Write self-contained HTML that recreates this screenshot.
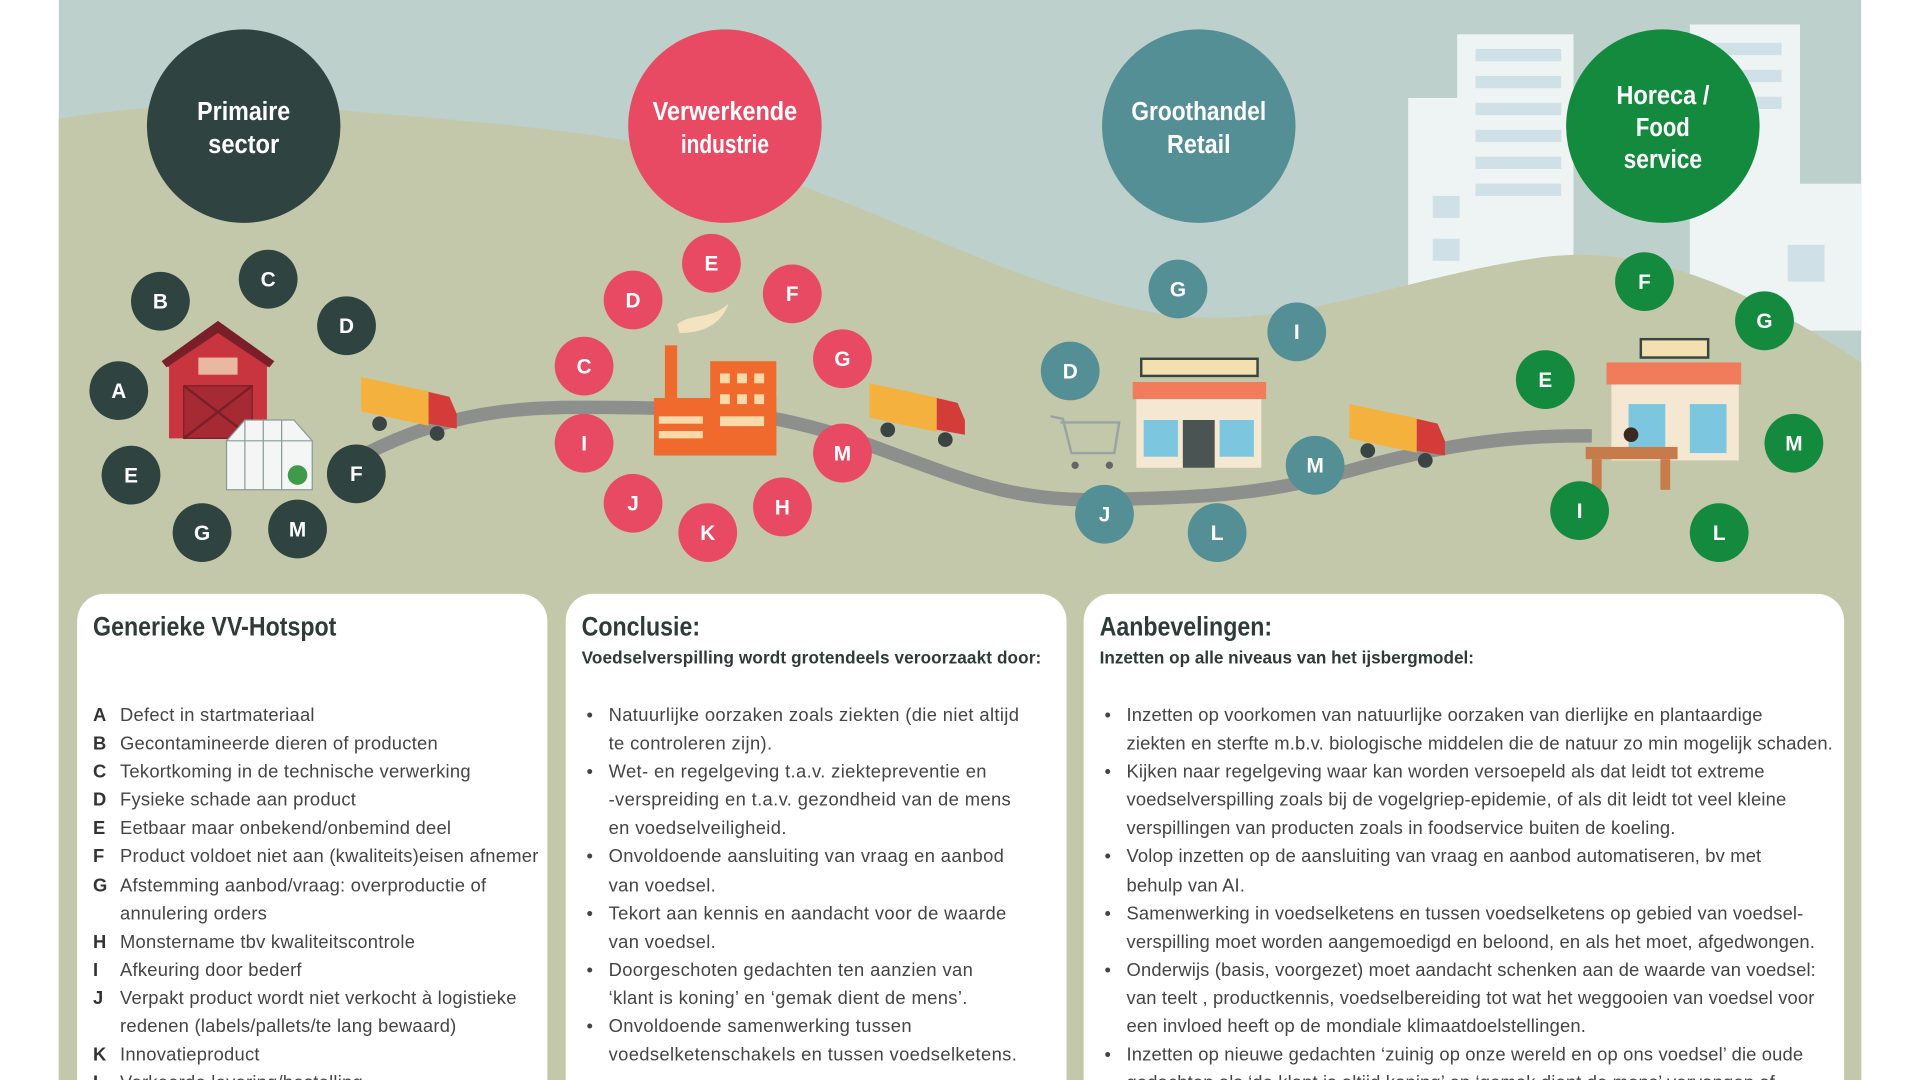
<!DOCTYPE html>
<html><head><meta charset="utf-8"><style>
html,body{margin:0;padding:0;width:1920px;height:1080px;overflow:hidden;background:#fff}
#wrap{position:absolute;left:0;top:0;width:1568px;height:882px;overflow:hidden;transform:scale(1.22449);transform-origin:0 0;font-family:"Liberation Sans",sans-serif}
svg text{font-family:"Liberation Sans",sans-serif;font-weight:bold}
.card{position:absolute;top:485px;height:420px;background:#fff;border-radius:22px 22px 0 0;color:#333}
.h{position:absolute;top:14px;left:13px;font-size:22px;font-weight:bold;color:#2f3b38;transform:scaleX(0.86);transform-origin:0 0;white-space:nowrap}
.s{position:absolute;top:44px;left:13px;font-size:14px;font-weight:bold;color:#2f3b38;white-space:nowrap}
.l{position:absolute;top:88px;left:13px;right:0;font-size:15px;line-height:23.1px;color:#444;white-space:nowrap}
.l div{position:relative;padding-left:22px}
.l b{position:absolute;left:0;font-weight:bold;color:#333}
.l i{position:absolute;left:4px;font-style:normal}
</style></head><body><div id="wrap">
<svg width="1568" height="882" style="position:absolute;left:0;top:0">
<defs>
<g id="tr"><rect x="0" y="0" width="55" height="28" fill="#f4b13e" transform="skewY(12)"/><path d="M55 12 L72 16 L78 30 L78 42 L55 38 Z" fill="#d33c38"/><circle cx="15" cy="38" r="6" fill="#3a4443"/><circle cx="62" cy="46" r="6" fill="#3a4443"/></g>
</defs>
<rect x="48" y="0" width="1472" height="882" fill="#bdd0cc"/>
<g fill="#eef3f4">
<rect x="1190" y="28" width="95" height="240"/>
<rect x="1380" y="20" width="90" height="250"/>
<rect x="1150" y="80" width="60" height="190"/>
<rect x="1440" y="150" width="80" height="120"/>
</g>
<g fill="#cfe1e7">
<rect x="1205" y="40" width="70" height="10"/><rect x="1205" y="62" width="70" height="10"/><rect x="1205" y="84" width="70" height="10"/><rect x="1205" y="106" width="70" height="10"/><rect x="1205" y="128" width="70" height="10"/><rect x="1205" y="150" width="70" height="10"/>
<rect x="1395" y="35" width="60" height="10"/><rect x="1395" y="57" width="60" height="10"/><rect x="1395" y="79" width="60" height="10"/>
<rect x="1170" y="160" width="22" height="18"/><rect x="1170" y="195" width="22" height="18"/><rect x="1460" y="200" width="30" height="30"/>
</g>
<path d="M48 97 C120 85 200 82 300 92 C420 102 540 110 650 150 C760 190 860 245 960 258 C1060 268 1150 225 1260 210 C1340 200 1420 230 1520 296 L1520 882 L48 882 Z" fill="#c3c8aa"/>
<path d="M300 370 C380 330 440 332 520 333 C600 334 640 340 700 360 C780 388 820 410 900 408 C980 406 1030 405 1100 385 C1170 365 1230 355 1300 356" fill="none" stroke="#8d8f8d" stroke-width="11"/>
<circle cx="199" cy="103" r="79" fill="#2f4340"/><circle cx="592" cy="103" r="79" fill="#e84a63"/><circle cx="979" cy="103" r="79" fill="#548f96"/><circle cx="1358" cy="103" r="79" fill="#138a3e"/>
<g fill="#fff" font-size="21" text-anchor="middle">
<text x="199" y="98" textLength="76" lengthAdjust="spacingAndGlyphs">Primaire</text><text x="199" y="125" textLength="58" lengthAdjust="spacingAndGlyphs">sector</text>
<text x="592" y="98" textLength="118" lengthAdjust="spacingAndGlyphs">Verwerkende</text><text x="592" y="125" textLength="72" lengthAdjust="spacingAndGlyphs">industrie</text>
<text x="979" y="98" textLength="110" lengthAdjust="spacingAndGlyphs">Groothandel</text><text x="979" y="125" textLength="52" lengthAdjust="spacingAndGlyphs">Retail</text>
<text x="1358" y="85" textLength="76" lengthAdjust="spacingAndGlyphs">Horeca /</text><text x="1358" y="111" textLength="44" lengthAdjust="spacingAndGlyphs">Food</text><text x="1358" y="137" textLength="64" lengthAdjust="spacingAndGlyphs">service</text>
</g>
<polygon points="132,295 178,265 224,295 218,300 218,358 138,358 138,300" fill="#c8353f"/>
<polygon points="132,295 178,262 224,295 220,300 178,272 136,300" fill="#7a1f28"/>
<rect x="150" y="315" width="56" height="43" fill="#a52a33" stroke="#7a1f28"/>
<path d="M150 315 L206 358 M206 315 L150 358" stroke="#7a1f28" stroke-width="2"/>
<rect x="162" y="292" width="32" height="14" fill="#e8b9a0"/>
<polygon points="185,360 200,343 240,343 255,360 255,400 185,400" fill="#f4f6f5" stroke="#8a9a98"/>
<path d="M200 343 L200 400 M215 343 L215 400 M230 343 L230 400 M185 360 L255 360" stroke="#8a9a98"/>
<circle cx="243" cy="388" r="8" fill="#3f9a4a"/>
<rect x="543" y="282" width="10" height="55" fill="#f06a2e"/>
<rect x="534" y="325" width="100" height="47" fill="#f06a2e"/>
<rect x="580" y="295" width="54" height="77" fill="#f06a2e"/>
<g fill="#fbd9a8"><rect x="588" y="305" width="8" height="8"/><rect x="602" y="305" width="8" height="8"/><rect x="616" y="305" width="8" height="8"/><rect x="588" y="322" width="8" height="8"/><rect x="602" y="322" width="8" height="8"/><rect x="616" y="322" width="8" height="8"/><rect x="538" y="340" width="36" height="6"/><rect x="538" y="352" width="36" height="6"/><rect x="588" y="340" width="36" height="8"/></g>
<path d="M553 265 C565 255 580 262 595 248 C590 262 578 272 555 272 Z" fill="#f3e3bf"/>
<use href="#tr" x="295" y="308"/><use href="#tr" x="710" y="313"/><use href="#tr" x="1102" y="330"/>
<rect x="932" y="293" width="95" height="14" fill="#f3e0b0" stroke="#3a4443" stroke-width="2"/>
<polygon points="925,312 1034,312 1034,326 925,326" fill="#f07c5c"/>
<rect x="928" y="326" width="102" height="56" fill="#f5e8d2"/>
<rect x="934" y="343" width="28" height="30" fill="#7cc6df"/><rect x="996" y="343" width="28" height="30" fill="#7cc6df"/><rect x="966" y="343" width="26" height="39" fill="#4a5452"/>
<path d="M858 340 L868 342 L875 370 L910 370 L914 345 L866 345" fill="none" stroke="#9ba3a2" stroke-width="2"/>
<circle cx="878" cy="380" r="3" fill="#666"/><circle cx="906" cy="380" r="3" fill="#666"/>
<rect x="1340" y="277" width="55" height="15" fill="#f3e0b0" stroke="#3a4443" stroke-width="2"/>
<rect x="1312" y="296" width="110" height="18" fill="#f07c5c"/>
<rect x="1316" y="314" width="104" height="62" fill="#f5e8d2"/>
<rect x="1330" y="330" width="30" height="40" fill="#7cc6df"/><rect x="1380" y="330" width="30" height="40" fill="#7cc6df"/>
<rect x="1295" y="365" width="75" height="10" fill="#c77a4a"/>
<rect x="1300" y="375" width="8" height="25" fill="#c77a4a"/><rect x="1356" y="375" width="8" height="25" fill="#c77a4a"/>
<circle cx="1332" cy="355" r="6" fill="#3a2a20"/>
<g font-size="17" text-anchor="middle">
<g fill="#2f4340">
<circle cx="131" cy="246" r="24"/><circle cx="219" cy="228" r="24"/><circle cx="283" cy="266" r="24"/><circle cx="97" cy="319" r="24"/><circle cx="291" cy="387" r="24"/><circle cx="107" cy="388" r="24"/><circle cx="165" cy="435" r="24"/><circle cx="243" cy="432" r="24"/></g>
<g fill="#e84a63">
<circle cx="581" cy="215" r="24"/><circle cx="517" cy="245" r="24"/><circle cx="647" cy="240" r="24"/><circle cx="477" cy="299" r="24"/><circle cx="688" cy="293" r="24"/><circle cx="477" cy="362" r="24"/><circle cx="688" cy="370" r="24"/><circle cx="517" cy="411" r="24"/><circle cx="639" cy="414" r="24"/><circle cx="578" cy="435" r="24"/></g>
<g fill="#548f96">
<circle cx="962" cy="236" r="24"/><circle cx="1059" cy="271" r="24"/><circle cx="874" cy="303" r="24"/><circle cx="1074" cy="380" r="24"/><circle cx="902" cy="420" r="24"/><circle cx="994" cy="435" r="24"/></g>
<g fill="#138a3e">
<circle cx="1343" cy="230" r="24"/><circle cx="1441" cy="262" r="24"/><circle cx="1262" cy="310" r="24"/><circle cx="1465" cy="362" r="24"/><circle cx="1290" cy="417" r="24"/><circle cx="1404" cy="435" r="24"/></g>
<g fill="#fff" font-weight="normal">
<text x="131" y="252">B</text><text x="219" y="234">C</text><text x="283" y="272">D</text><text x="97" y="325">A</text><text x="291" y="393">F</text><text x="107" y="394">E</text><text x="165" y="441">G</text><text x="243" y="438">M</text>
<text x="581" y="221">E</text><text x="517" y="251">D</text><text x="647" y="246">F</text><text x="477" y="305">C</text><text x="688" y="299">G</text><text x="477" y="368">I</text><text x="688" y="376">M</text><text x="517" y="417">J</text><text x="639" y="420">H</text><text x="578" y="441">K</text>
<text x="962" y="242">G</text><text x="1059" y="277">I</text><text x="874" y="309">D</text><text x="1074" y="386">M</text><text x="902" y="426">J</text><text x="994" y="441">L</text>
<text x="1343" y="236">F</text><text x="1441" y="268">G</text><text x="1262" y="316">E</text><text x="1465" y="368">M</text><text x="1290" y="423">I</text><text x="1404" y="441">L</text>
</g></g>
</svg>

<div class="card" style="left:63px;width:384px">
<div class="h">Generieke VV-Hotspot</div>
<div class="l" style="letter-spacing:0.2px">
<div><b>A</b>Defect in startmateriaal</div>
<div><b>B</b>Gecontamineerde dieren of producten</div>
<div><b>C</b>Tekortkoming in de technische verwerking</div>
<div><b>D</b>Fysieke schade aan product</div>
<div><b>E</b>Eetbaar maar onbekend/onbemind deel</div>
<div><b>F</b>Product voldoet niet aan (kwaliteits)eisen afnemer</div>
<div><b>G</b>Afstemming aanbod/vraag: overproductie of<br>annulering orders</div>
<div><b>H</b>Monstername tbv kwaliteitscontrole</div>
<div><b>I</b>Afkeuring door bederf</div>
<div><b>J</b>Verpakt product wordt niet verkocht à logistieke<br>redenen (labels/pallets/te lang bewaard)</div>
<div><b>K</b>Innovatieproduct</div>
<div><b>L</b>Verkeerde levering/bestelling</div>
</div></div>

<div class="card" style="left:462px;width:409px">
<div class="h">Conclusie:</div>
<div class="s" style="letter-spacing:0.1px">Voedselverspilling wordt grotendeels veroorzaakt door:</div>
<div class="l" style="letter-spacing:0.3px">
<div><i>•</i>Natuurlijke oorzaken zoals ziekten (die niet altijd<br>te controleren zijn).</div>
<div><i>•</i>Wet- en regelgeving t.a.v. ziektepreventie en<br>-verspreiding en t.a.v. gezondheid van de mens<br>en voedselveiligheid.</div>
<div><i>•</i>Onvoldoende aansluiting van vraag en aanbod<br>van voedsel.</div>
<div><i>•</i>Tekort aan kennis en aandacht voor de waarde<br>van voedsel.</div>
<div><i>•</i>Doorgeschoten gedachten ten aanzien van<br>‘klant is koning’ en ‘gemak dient de mens’.</div>
<div><i>•</i>Onvoldoende samenwerking tussen<br>voedselketenschakels en tussen voedselketens.</div>
</div></div>

<div class="card" style="left:885px;width:621px">
<div class="h">Aanbevelingen:</div>
<div class="s">Inzetten op alle niveaus van het ijsbergmodel:</div>
<div class="l" style="letter-spacing:0.12px">
<div><i>•</i>Inzetten op voorkomen van natuurlijke oorzaken van dierlijke en plantaardige<br>ziekten en sterfte m.b.v. biologische middelen die de natuur zo min mogelijk schaden.</div>
<div><i>•</i>Kijken naar regelgeving waar kan worden versoepeld als dat leidt tot extreme<br>voedselverspilling zoals bij de vogelgriep-epidemie, of als dit leidt tot veel kleine<br>verspillingen van producten zoals in foodservice buiten de koeling.</div>
<div><i>•</i>Volop inzetten op de aansluiting van vraag en aanbod automatiseren, bv met<br>behulp van AI.</div>
<div><i>•</i>Samenwerking in voedselketens en tussen voedselketens op gebied van voedsel-<br>verspilling moet worden aangemoedigd en beloond, en als het moet, afgedwongen.</div>
<div><i>•</i>Onderwijs (basis, voorgezet) moet aandacht schenken aan de waarde van voedsel:<br>van teelt , productkennis, voedselbereiding tot wat het weggooien van voedsel voor<br>een invloed heeft op de mondiale klimaatdoelstellingen.</div>
<div><i>•</i>Inzetten op nieuwe gedachten ‘zuinig op onze wereld en op ons voedsel’ die oude<br>gedachten als ‘de klant is altijd koning’ en ‘gemak dient de mens’ vervangen of</div>
</div></div>
</div></body></html>
